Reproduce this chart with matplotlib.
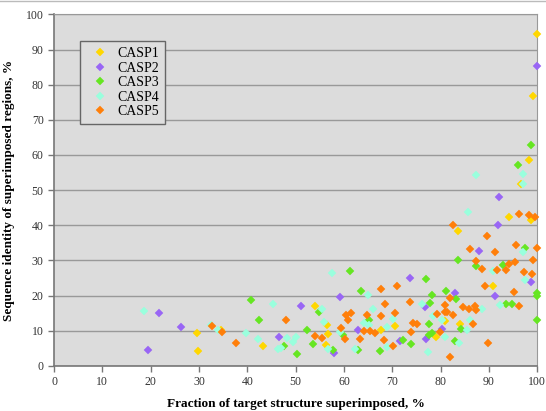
import matplotlib
matplotlib.use("Agg")
import matplotlib.pyplot as plt
from matplotlib.lines import Line2D

plt.rcParams["font.family"] = ["Liberation Serif", "DejaVu Serif"]

# 데이터 ------------------------------------------------------------
casp1_x = [100, 99.1, 98.3, 96.7, 98.8, 94.2, 83.6, 90.9, 84.1, 80.9, 79.1, 67.7, 70.5,
           54.1, 56.4, 56.6, 56.2, 43.2, 29.6, 29.8, 34.5]
casp1_y = [94.3, 76.7, 58.7, 51.8, 41.5, 42.3, 38.4, 22.7, 12.0, 12.8, 8.3, 10.2, 11.3,
           17.0, 11.6, 9.0, 5.9, 5.6, 9.4, 4.2, 10.3]

casp2_x = [100, 92.1, 91.9, 88.0, 98.7, 91.3, 82.9, 80.3, 76.9, 76.7, 73.6, 71.5, 62.8,
           59.2, 58.0, 51.1, 46.6, 26.2, 21.7, 19.5]
casp2_y = [85.3, 48.0, 40.0, 32.7, 23.9, 20.0, 20.6, 10.6, 7.5, 16.8, 25.0, 7.1, 10.2,
           19.5, 3.7, 17.0, 8.3, 11.0, 14.9, 4.6]

casp3_x = [98.7, 96.0, 97.5, 87.3, 83.6, 92.9, 93.5, 94.7, 100, 100, 100, 81.2, 78.2,
           76.9, 77.8, 77.6, 78.2, 77.5, 83.0, 84.3, 83.2, 73.8, 72.2, 67.4, 63.0, 63.5,
           61.2, 65.2, 59.8, 57.8, 53.5, 52.4, 54.9, 50.2, 42.4, 40.7, 47.5]
casp3_y = [62.8, 57.0, 33.5, 28.4, 30.0, 28.8, 17.6, 17.6, 20.6, 19.9, 13.0, 21.4, 20.1,
           24.8, 18.0, 12.0, 9.2, 8.7, 7.0, 10.6, 18.9, 6.2, 7.3, 4.3, 4.6, 21.4,
           27.0, 13.0, 8.7, 4.5, 6.1, 10.2, 15.3, 3.3, 13.0, 18.7, 5.6]

casp4_x = [87.3, 97.1, 97.1, 85.7, 97.1, 97.5, 90.8, 92.2, 88.6, 86.1, 85.4, 83.9, 81.0,
           80.2, 78.5, 76.2, 77.3, 69.0, 68.8, 70.1, 66.1, 64.9, 64.1, 65.2, 62.3, 57.6,
           55.5, 55.8, 56.6, 59.1, 45.4, 50.1, 49.4, 48.3, 47.0, 46.3, 42.3, 39.8, 33.9,
           32.4, 18.6]
casp4_y = [54.3, 54.6, 51.6, 43.8, 32.4, 24.4, 27.0, 17.2, 16.3, 13.0, 10.2, 6.4, 8.3,
           13.0, 14.1, 17.7, 3.8, 5.4, 11.1, 13.3, 16.3, 20.1, 12.2, 11.6, 4.9, 26.3,
           16.3, 12.5, 4.9, 9.7, 17.7, 8.3, 6.8, 7.8, 5.1, 4.9, 7.5, 9.2, 10.2,
           11.6, 15.6]

casp5_x = [96.2, 98.3, 99.6, 82.5, 89.5, 95.6, 100, 86.0, 91.3, 87.4, 95.3, 94.2, 99.1,
           88.6, 91.6, 93.5, 97.3, 98.9, 89.1, 95.1, 96.2, 84.6, 85.9, 87.2, 87.3, 86.6,
           89.8, 82.0, 81.0, 80.9, 81.4, 82.5, 79.2, 79.8, 82.0, 73.6, 74.2, 75.1, 73.8,
           71.0, 70.6, 70.2, 67.7, 68.4, 67.6, 68.2, 64.8, 64.1, 65.4, 66.5, 63.4, 61.4,
           60.4, 60.9, 60.2, 59.3, 55.5, 53.9, 48.1, 37.7, 34.7, 32.7]
casp5_y = [43.2, 42.9, 42.4, 40.2, 36.8, 34.5, 33.4, 33.1, 32.4, 29.7, 29.4, 29.1, 30.1,
           27.5, 27.4, 27.4, 26.8, 26.1, 22.8, 21.0, 17.0, 16.8, 16.3, 17.0, 16.0, 12.0,
           6.5, 19.2, 17.3, 15.2, 15.2, 14.4, 14.6, 9.7, 2.4, 18.2, 12.2, 12.0, 9.7,
           22.7, 15.1, 5.7, 21.8, 17.7, 14.2, 7.3, 14.4, 9.9, 9.9, 9.2, 7.5, 14.9,
           14.4, 13.0, 7.5, 10.8, 7.8, 8.5, 13.0, 6.6, 9.7, 11.2]

series = [
    ("CASP1", casp1_x, casp1_y, "#FFD700"),
    ("CASP2", casp2_x, casp2_y, "#9966F5"),
    ("CASP3", casp3_x, casp3_y, "#66E622"),
    ("CASP4", casp4_x, casp4_y, "#99FFDD"),
    ("CASP5", casp5_x, casp5_y, "#FF7F0A"),
]

# 그래프 시각화 ------------------------------------------------------------
fig = plt.figure(figsize=(5.46, 4.11), dpi=100)
ax = fig.add_axes([0.099, 0.110, 0.885, 0.855])
ax.set_facecolor("#DCDCDC")

for label, xs, ys, color in series:
    ax.plot(xs, ys, linestyle="none", marker="D", markersize=4.2,
            markerfacecolor=color, markeredgecolor=color, markeredgewidth=0.3,
            label=label, clip_on=False, zorder=3)

ax.set_xlim(0, 100)
ax.set_ylim(0, 100)
ax.set_xticks(range(0, 101, 10))
ax.set_yticks(range(0, 101, 10))
ax.yaxis.grid(True, color="#999999", linewidth=1)
ax.set_axisbelow(True)

for side in ["left", "bottom"]:
    ax.spines[side].set_color("#777777")
    ax.spines[side].set_linewidth(1.2)
ax.spines["right"].set_color("#999999")
ax.spines["top"].set_color("#999999")
ax.tick_params(direction="out", length=4, width=1, color="#777777",
               labelsize=8.5, labelcolor="#333333")

ax.set_xlabel("Fraction of target structure superimposed, %",
              fontsize=9.5, fontweight="bold", labelpad=7)
ax.set_ylabel("Sequence identity of superimposed regions, %",
              fontsize=9.5, fontweight="bold", labelpad=8)

leg = ax.legend(loc="upper left", bbox_to_anchor=(0.054, 0.924), fontsize=10,
                frameon=True, fancybox=False, handletextpad=0.3, borderpad=0.45,
                labelspacing=0.1, handlelength=1.9, borderaxespad=0)
leg.get_frame().set_facecolor("#DEDEDE")
leg.get_frame().set_edgecolor("#666666")
leg.get_frame().set_linewidth(1)
leg.get_frame().set_alpha(1)

fig.add_artist(Line2D([0, 1], [0.997, 0.997], color="#BBBBBB", linewidth=1))

plt.savefig("out.png", dpi=100)
